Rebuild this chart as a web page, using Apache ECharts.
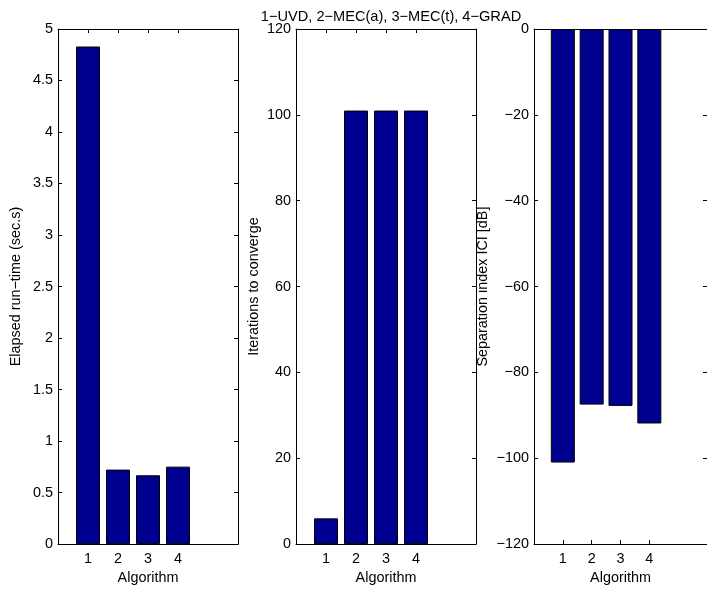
<!DOCTYPE html>
<html>
<head>
<meta charset="utf-8">
<script src="https://cdn.jsdelivr.net/npm/echarts@6/dist/echarts.min.js"></script>
<style>
  html, body { margin: 0; padding: 0; background: #fff; }
  #chart { width: 707px; height: 590px; }
</style>
</head>
<body>
<div id="chart"></div>
<script>
// Algorithms compared, in plotting order
const algorithms = [1, 2, 3, 4];
const titleText = '1\u2212UVD, 2\u2212MEC(a), 3\u2212MEC(t), 4\u2212GRAD';

// Measured results per algorithm
const runTime = [4.83, 0.723, 0.668, 0.752];      // seconds
const iterations = [6, 101, 101, 101];             // count
const separationICI = [-101, -87.5, -87.8, -91.9]; // dB

// Axis ranges / tick steps for each panel
const runTimeAxis = { min: 0, max: 5, interval: 0.5 };
const iterAxis = { min: 0, max: 120, interval: 20 };
const iciAxis = { min: -120, max: 0, interval: 20 };

const yNames = ['Elapsed run\u2212time (sec.s)', 'Iterations to converge', 'Separation index ICI [dB]'];

const FONT = 'Liberation Sans, Arial, Helvetica, sans-serif';
const FS = 14.4;
const BLACK = '#000';

const panels = [
  { data: runTime, axis: runTimeAxis, name: yNames[0], nameGap: 35 },
  { data: iterations, axis: iterAxis, name: yNames[1], nameGap: 35 },
  { data: separationICI, axis: iciAxis, name: yNames[2], nameGap: 44 }
];

const minus = v => String(v).replace('-', '\u2212');

const grids = [], xAxes = [], yAxes = [], series = [];
panels.forEach((p, i) => {
  grids.push({ left: 58 + i * 238, top: 29, width: 180, height: 516.5, containLabel: false });
  const common = {
    gridIndex: i, type: 'value', min: 0, max: 6,
    axisLine: { onZero: false, lineStyle: { color: BLACK, width: 1 } },
    axisTick: { inside: true, length: 4, customValues: algorithms, lineStyle: { color: BLACK } },
    splitLine: { show: false }
  };
  // bottom axis with labels
  xAxes.push(Object.assign({}, common, {
    position: 'bottom',
    name: 'Algorithm', nameLocation: 'middle', nameGap: 23,
    nameTextStyle: { fontFamily: FONT, fontSize: FS, color: BLACK },
    axisLabel: { customValues: algorithms, margin: 8, fontFamily: FONT, fontSize: FS, color: BLACK }
  }));
  // top box edge
  xAxes.push(Object.assign({}, common, {
    position: 'top',
    axisLabel: { show: false }
  }));
  const yCommon = {
    gridIndex: i, type: 'value',
    min: p.axis.min, max: p.axis.max, interval: p.axis.interval,
    axisLine: { show: true, onZero: false, lineStyle: { color: BLACK, width: 1 } },
    axisTick: { show: true, inside: true, length: 4, lineStyle: { color: BLACK } },
    splitLine: { show: false }
  };
  yAxes.push(Object.assign({}, yCommon, {
    position: 'left',
    name: p.name, nameLocation: 'middle', nameGap: p.nameGap, nameRotate: 90,
    nameTextStyle: { fontFamily: FONT, fontSize: FS, color: BLACK },
    axisLabel: { margin: 5, fontFamily: FONT, fontSize: FS, color: BLACK, formatter: minus }
  }));
  yAxes.push(Object.assign({}, yCommon, {
    position: 'right',
    axisLabel: { show: false }
  }));
  series.push({
    type: 'bar',
    xAxisIndex: i * 2,
    yAxisIndex: i * 2,
    barWidth: 24,
    data: algorithms.map((a, k) => [a, p.data[k]]),
    itemStyle: { color: '#000090', borderColor: '#000', borderWidth: 1 },
    silent: true,
    animation: false
  });
});

const chart = echarts.init(document.getElementById('chart'), null, { renderer: 'canvas' });
chart.setOption({
  animation: false,
  backgroundColor: '#fff',
  title: {
    text: titleText, left: 386, top: 4, textAlign: 'center',
    textStyle: { fontFamily: FONT, fontSize: 14.6, fontWeight: 'normal', color: BLACK }
  },
  grid: grids,
  xAxis: xAxes,
  yAxis: yAxes,
  series: series
});
</script>
</body>
</html>
